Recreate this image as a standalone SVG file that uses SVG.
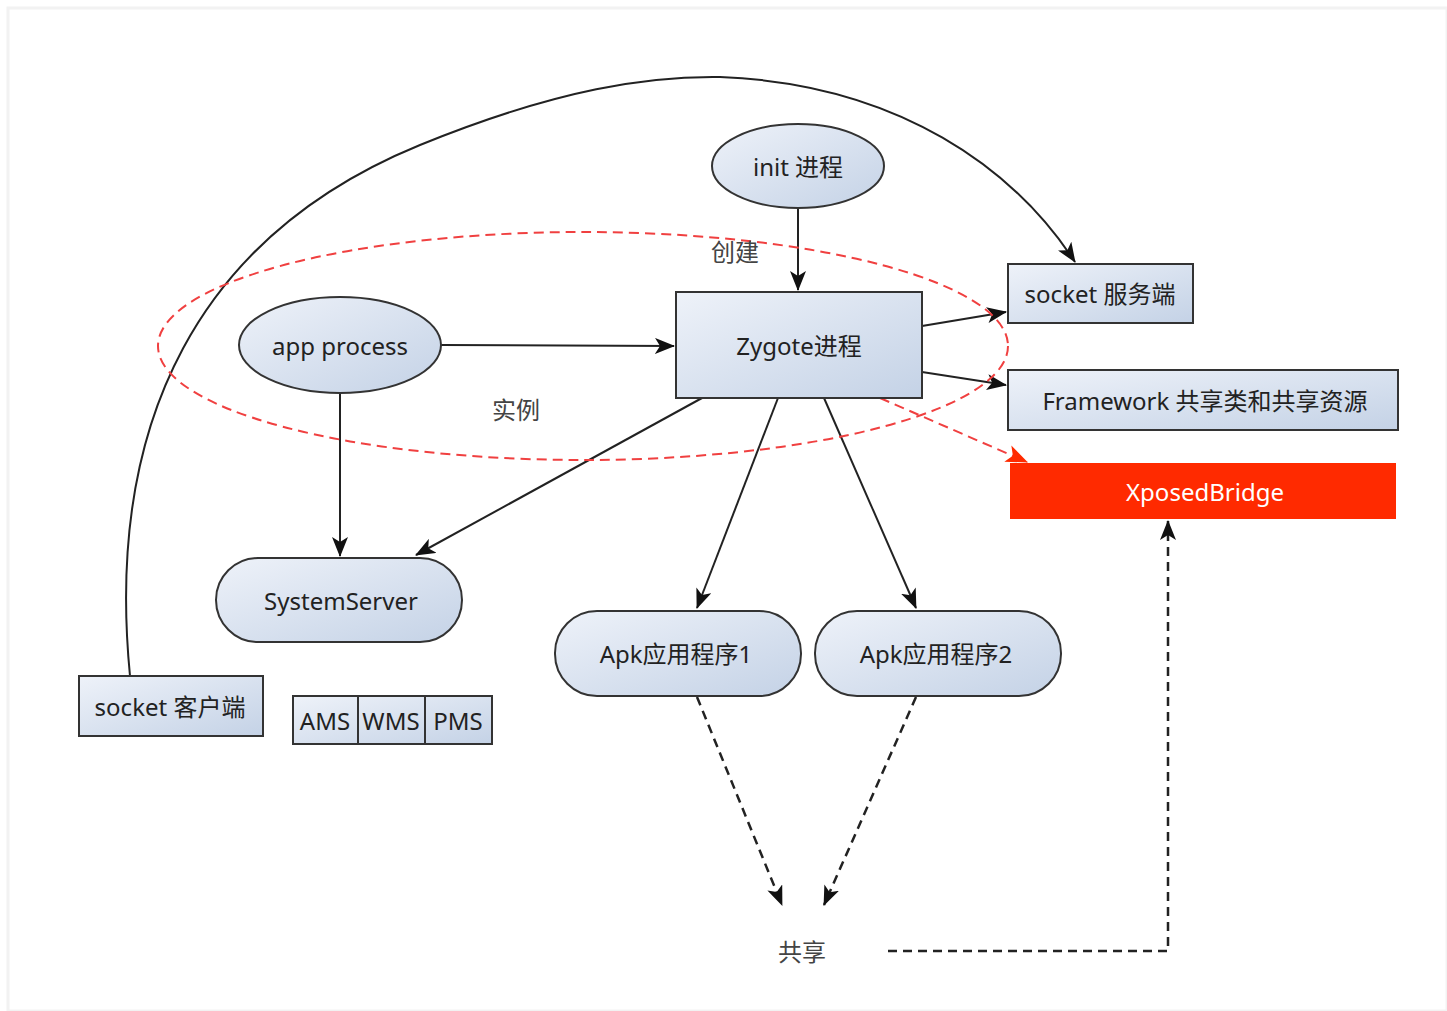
<svg xmlns="http://www.w3.org/2000/svg" width="1447" height="1011" viewBox="0 0 1447 1011">
<defs>
<linearGradient id="g" x1="0" y1="0" x2="1" y2="1">
<stop offset="0" stop-color="#eef2f9"/>
<stop offset="1" stop-color="#c4d2e6"/>
</linearGradient>
<marker id="ah" viewBox="0 0 20 16" refX="19" refY="8" markerWidth="20" markerHeight="16" markerUnits="userSpaceOnUse" orient="auto">
<path d="M0,0 L20,8 L0,16 L5,8 Z" fill="#111"/>
</marker>
<marker id="ahr" viewBox="0 0 20 16" refX="19" refY="8" markerWidth="22" markerHeight="18" markerUnits="userSpaceOnUse" orient="auto">
<path d="M0,0 L20,8 L0,16 L5,8 Z" fill="#ff2a00"/>
</marker>
</defs>
<style>
.n{fill:url(#g);stroke:#333;stroke-width:2}
.t{font-family:"Noto Sans","Noto Sans CJK SC",sans-serif;font-size:24px;fill:#222;text-anchor:middle;dominant-baseline:central}
.e{fill:none;stroke:#222;stroke-width:2;marker-end:url(#ah)}
.d{fill:none;stroke:#222;stroke-width:2.5;stroke-dasharray:9,6}
.r{fill:none;stroke:#f04040;stroke-width:2;stroke-dasharray:10,6}
</style>
<rect x="0" y="0" width="1447" height="1011" fill="#fff"/>
<rect x="8" y="8" width="1439" height="1003" fill="none" stroke="#f2f2f2" stroke-width="3"/>

<g id="connectors">
<path class="e" d="M130,676 C105,420 200,235 420,145 C560,88 650,76 720,77 C900,84 1015,170 1075,262"/>
<line class="e" x1="798" y1="208" x2="798" y2="290"/>
<line class="e" x1="441" y1="345" x2="674" y2="346"/>
<line class="e" x1="340" y1="393" x2="340" y2="556"/>
<line class="e" x1="702" y1="398" x2="416" y2="555"/>
<line class="e" x1="922" y1="326" x2="1006" y2="312"/>
<line class="e" x1="922" y1="372" x2="1006" y2="385"/>
<line class="e" x1="778" y1="398" x2="697" y2="608"/>
<line class="e" x1="824" y1="398" x2="916" y2="608"/>
<line class="d" x1="697" y1="697" x2="782" y2="905" marker-end="url(#ah)"/>
<line class="d" x1="916" y1="697" x2="824" y2="905" marker-end="url(#ah)"/>
<path class="d" d="M888,951 L1168,951 L1168,521" marker-end="url(#ah)"/>
<line class="r" x1="880" y1="398" x2="1027" y2="462" marker-end="url(#ahr)"/>
</g>

<g id="group-ellipse">
<ellipse class="r" cx="583" cy="346" rx="425" ry="114"/>
</g>

<g id="init"><ellipse class="n" cx="798" cy="166" rx="86" ry="42"/><text class="t" x="798" y="166">init 进程</text></g>
<g id="zygote"><rect class="n" x="676" y="292" width="246" height="106"/><text class="t" x="799" y="345">Zygote进程</text></g>
<g id="app-process"><ellipse class="n" cx="340" cy="345" rx="101" ry="48"/><text class="t" x="340" y="345">app process</text></g>
<g id="socket-server"><rect class="n" x="1008" y="264" width="185" height="59"/><text class="t" x="1100" y="293">socket 服务端</text></g>
<g id="framework"><rect class="n" x="1008" y="370" width="390" height="60"/><text class="t" x="1205" y="400">Framework 共享类和共享资源</text></g>
<g id="xposed"><rect x="1010" y="463" width="386" height="56" fill="#ff2a00"/><text class="t" x="1205" y="491" style="fill:#fff">XposedBridge</text></g>
<g id="systemserver"><rect class="n" x="216" y="558" width="246" height="84" rx="42"/><text class="t" x="341" y="600">SystemServer</text></g>
<g id="apk1"><rect class="n" x="555" y="611" width="246" height="85" rx="42"/><text class="t" x="676" y="653">Apk应用程序1</text></g>
<g id="apk2"><rect class="n" x="815" y="611" width="246" height="85" rx="42"/><text class="t" x="936" y="653">Apk应用程序2</text></g>
<g id="socket-client"><rect class="n" x="79" y="676" width="184" height="60"/><text class="t" x="170" y="706">socket 客户端</text></g>
<g id="services">
<rect class="n" x="293" y="696" width="199" height="48"/>
<line x1="358" y1="696" x2="358" y2="744" stroke="#333" stroke-width="2"/>
<line x1="425" y1="696" x2="425" y2="744" stroke="#333" stroke-width="2"/>
<text class="t" x="325" y="720">AMS</text>
<text class="t" x="391" y="720">WMS</text>
<text class="t" x="458" y="720">PMS</text>
</g>
<g id="labels">
<text class="t" x="735" y="251" style="fill:#444">创建</text>
<text class="t" x="516" y="409" style="fill:#444">实例</text>
<text class="t" x="802" y="951" style="fill:#444">共享</text>
</g>
</svg>
